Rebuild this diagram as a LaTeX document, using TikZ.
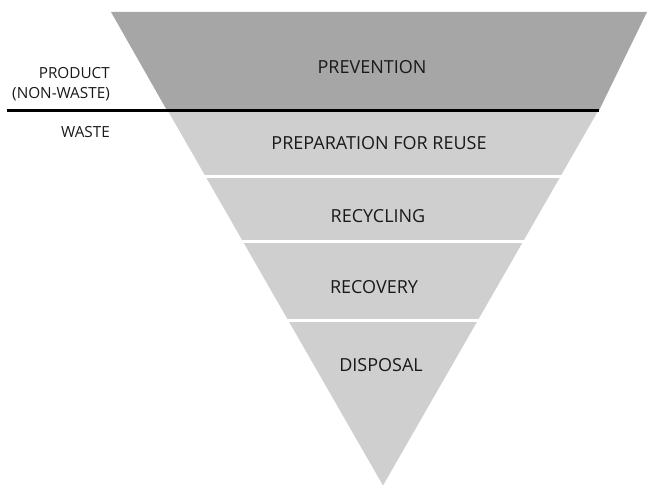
\documentclass[tikz,border=0pt]{standalone}
\usepackage{fontspec}
\setmainfont{Open Sans}
\begin{document}
\begin{tikzpicture}[x=1pt,y=-1pt,
  lbl/.style={font=\fontsize{18}{21}\selectfont, text=black!90, inner sep=0pt},
  side/.style={font=\fontsize{15.3}{20}\selectfont, text=black!90, inner sep=0pt, align=right, anchor=east}]
\definecolor{darkband}{HTML}{A6A6A6}
\definecolor{lightband}{HTML}{CFCFCF}
\useasboundingbox (0,0) rectangle (647,486);
% prevention band
\fill[darkband] (111,12) -- (647,12) -- (599,110.5) -- (167,110.5) -- cycle;
% lower bands
\begin{scope}
  \clip (168,111) -- (598,111) -- (383,485.5) -- cycle;
  \fill[lightband] (100,111) rectangle (660,175);
  \fill[lightband] (100,178) rectangle (660,240);
  \fill[lightband] (100,243) rectangle (660,319);
  \fill[lightband] (100,322) rectangle (660,490);
\end{scope}
\draw[line width=2.3pt] (7,110.5) -- (599,110.5);
\node[lbl] (prev) at (372,67) {PREVENTION};
\node[lbl] (prep) at (379,143) {PREPARATION FOR REUSE};
\node[lbl] (recy) at (378,216) {RECYCLING};
\node[lbl] (reco) at (374,287) {RECOVERY};
\node[lbl] (disp) at (381,365) {DISPOSAL};
\node[side] (prod) at (110,84.5) {PRODUCT\\(NON-WASTE)};
\node[side] (waste) at (110,132.5) {WASTE};
\end{tikzpicture}
\end{document}
